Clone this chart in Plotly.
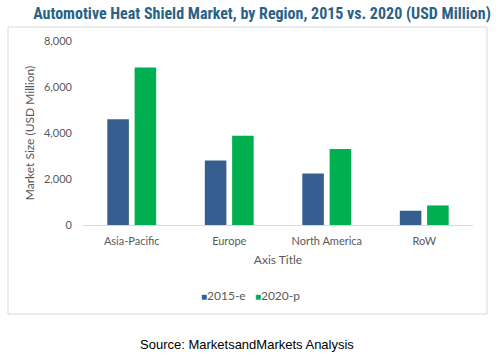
import plotly.graph_objects as go

categories = ["Asia-Pacific", "Europe", "North America", "RoW"]
series_names = ["2015-e", "2020-p"]
values_2015 = [4600, 2800, 2240, 620]
values_2020 = [6850, 3880, 3300, 850]
y_ticks = [0, 2000, 4000, 6000, 8000]
y_tick_labels = ["0", "2,000", "4,000", "6,000", "8,000"]
colors = ["#375E91", "#00B050"]

W, H = 504, 356
L, R, T, B = 83, 31, 41, 131
pw, ph = W - L - R, H - T - B

def px(x):
    return (x - L) / pw

def py(y):
    return (H - B - y) / ph

fig = go.Figure()
for name, vals, c in zip(series_names, [values_2015, values_2020], colors):
    fig.add_trace(go.Bar(x=categories, y=vals, name=name, marker=dict(color=c, line=dict(width=0))))

legend_text = "&nbsp;&nbsp;&nbsp;".join(
    f"<span style='color:{c}; font-size:10px'>■</span>{n}" for n, c in zip(series_names, colors)
)

fig.update_layout(
    width=W, height=H,
    margin=dict(l=L, r=R, t=T, b=B),
    paper_bgcolor="white", plot_bgcolor="white",
    barmode="group", bargap=0.44, bargroupgap=0.21,
    font=dict(family="Lato, Open Sans, sans-serif", color="#595959", size=11),
    title=dict(text="<b>Automotive Heat Shield Market, by Region, 2015 vs. 2020 (USD Million)</b>",
               font=dict(family="Liberation Sans Narrow, Roboto Condensed, Arial Narrow, sans-serif", size=16, color="#2A6285"),
               x=px(262), xref="paper", xanchor="center", y=1 - 13 / H, yanchor="middle"),
    showlegend=False,
    xaxis=dict(showline=True, linecolor="#D9D9D9", linewidth=1, ticks="", showgrid=False,
               ticklabelstandoff=6,
               tickfont=dict(size=11, color="#595959"),
               title=dict(text="Axis Title", font=dict(size=12, color="#595959"), standoff=9)),
    yaxis=dict(range=[0, 8000], tickvals=y_ticks, ticktext=y_tick_labels, showgrid=False,
               zeroline=False, showline=False, ticks="", ticklabelstandoff=10,
               tickfont=dict(size=11, color="#595959"),
               title=dict(text="Market Size (USD Million)", font=dict(size=12, color="#595959"), standoff=6)),
    shapes=[dict(type="rect", xref="paper", yref="paper",
                 x0=px(8), x1=px(487), y0=py(314), y1=py(27),
                 line=dict(color="#D9D9D9", width=1), fillcolor="rgba(0,0,0,0)", layer="below")],
    annotations=[
        dict(text=legend_text, xref="paper", yref="paper",
             x=px(250), y=py(295), xanchor="center", yanchor="middle", showarrow=False,
             font=dict(size=12, color="#595959")),
        dict(text="Source: MarketsandMarkets Analysis", xref="paper", yref="paper",
             x=px(247), y=py(344), xanchor="center", yanchor="middle", showarrow=False,
             font=dict(family="Liberation Sans, Arial, sans-serif", size=13, color="#000000")),
    ],
)

fig.write_html("out.html", config={"displayModeBar": False},
               post_script="document.body.style.margin='0';")
